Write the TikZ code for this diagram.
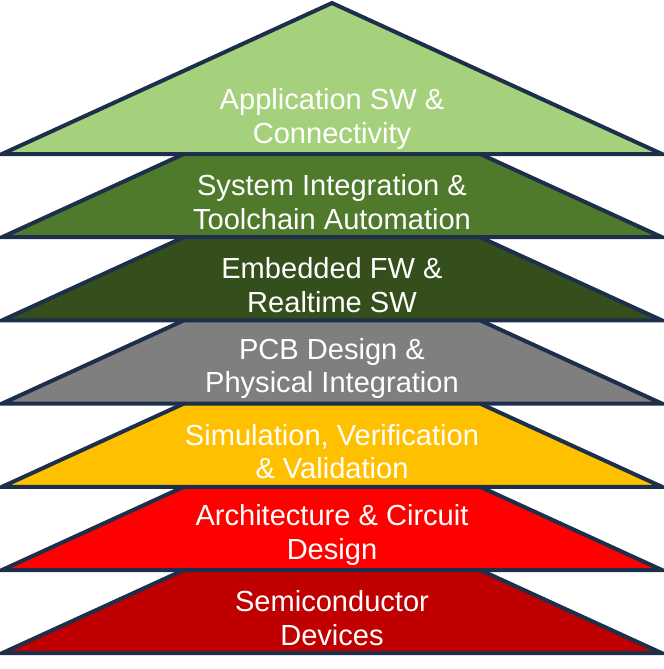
\documentclass[tikz,border=0pt]{standalone}
\usepackage{fontspec}
\setmainfont{Liberation Sans}
\usepackage{tikz}
\definecolor{edgeblue}{HTML}{1D2F4B}
\definecolor{appgreen}{HTML}{A6D17C}
\definecolor{sysgreen}{HTML}{4F7A2C}
\definecolor{fwgreen}{HTML}{344F1C}
\definecolor{pcbgray}{HTML}{7F7F7F}
\definecolor{simyellow}{HTML}{FFC000}
\definecolor{archred}{HTML}{FF0000}
\definecolor{semired}{HTML}{C00000}
\tikzstyle{layer}=[draw=edgeblue, line width=3pt, line join=miter, miter limit=20]
\tikzstyle{caption}=[text=white, align=center, font=\fontsize{21.8}{25.2}\selectfont, inner sep=0pt]

\begin{document}
\begin{tikzpicture}[x=0.75pt, y=-0.75pt]
        \useasboundingbox (0,0) rectangle (664,669);
        % layers from the bottom up, each one a triangle over the one below
        \foreach \i/\col/\txt in {7/semired/{Semiconductor\\Devices},
                6/archred/{Architecture \& Circuit\\Design},
                5/simyellow/{Simulation, Verification\\\& Validation},
                4/pcbgray/{PCB Design \&\\Physical Integration},
                3/fwgreen/{Embedded FW \&\\Realtime SW},
                2/sysgreen/{System Integration \&\\Toolchain Automation},
                1/appgreen/{Application SW \&\\Connectivity}} {
            \pgfmathsetmacro{\base}{154 + (\i-1)*83.2}
            \draw[layer, fill=\col] (332, \base-151) -- (662, \base) -- (2, \base) -- cycle;
            \node[caption] (L\i) at (332, \base-35) {\txt};
        }
    \end{tikzpicture}
\end{document}
